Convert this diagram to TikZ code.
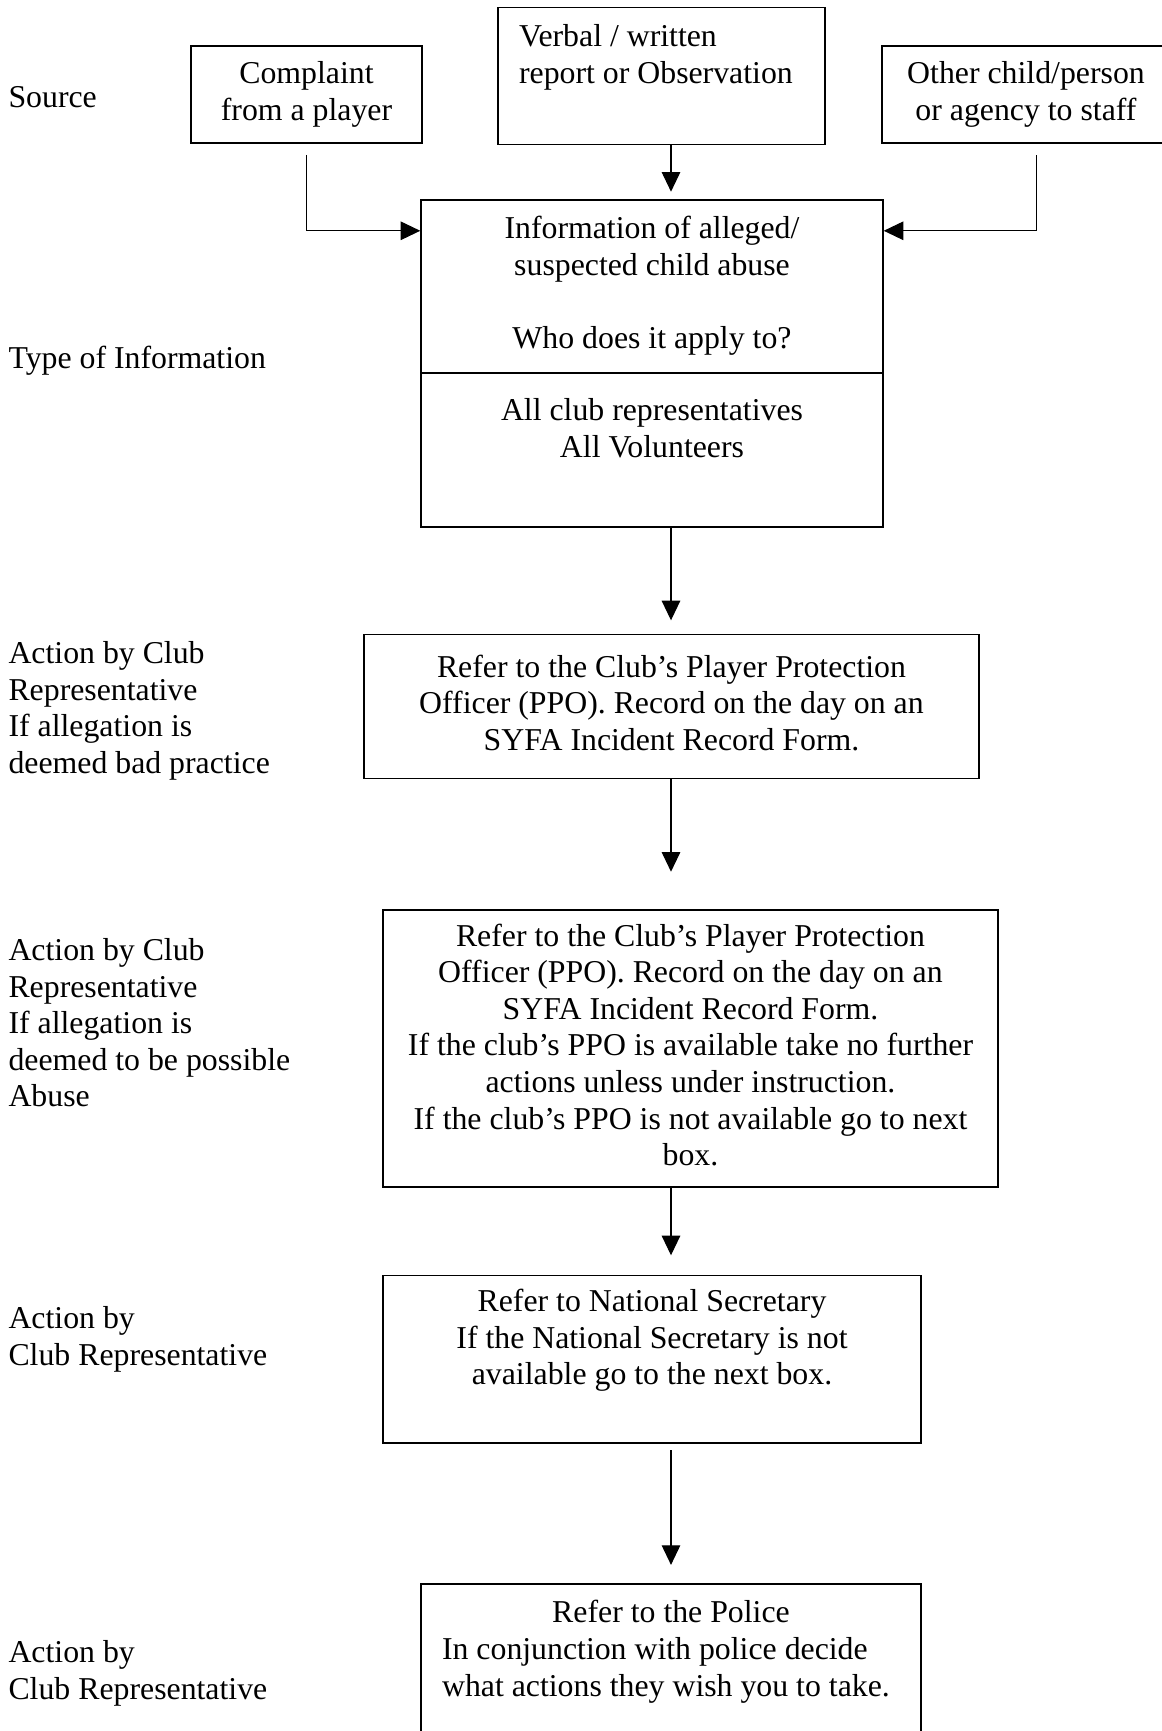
\documentclass[tikz,border=0pt]{standalone}
\usepackage{fontspec}
\setmainfont{Liberation Serif}
\usetikzlibrary{calc,arrows.meta}

\begin{document}
\begin{tikzpicture}[
    x=0.37736pt, y=-0.37736pt,
    font=\fontsize{12}{13.8}\selectfont,
    box/.style={
        rectangle,
        draw,
        line width=0.6pt,
        align=flush center,
        inner xsep=4pt,
        inner ysep=2pt,
        execute at begin node=\strut,
        execute at end node=\strut
    },
    sidetext/.style={
        anchor=north west,
        align=flush left,
        text width=110pt,
        inner sep=0pt,
        execute at begin node=\strut,
        execute at end node=\strut
    },
    arrow/.style={
        -{Triangle[length=7.4pt, width=7pt]},
        line width=0.4pt
    }
]

\useasboundingbox (0,0) rectangle (1162,1731);
\clip (0,0) rectangle (1162,1731);

% sources
\node[box, text width=79.2pt, minimum height=36.6pt] (complaint) at (306.5,94.5)
{Complaint\\from a player};

\node[box, align=flush left, text width=107.5pt, inner xsep=7.92pt, minimum height=51.7pt] (verbal) at (661.5,75.85)
{Verbal / written\\report or Observation\\~};

\node[box, text width=100.7pt, minimum height=36.6pt] (other) at (1026,94.5)
{Other child/person\\or agency to staff};

% information
\node[box, text width=166.3pt, minimum height=65.3pt] (info) at (652,286.5)
{Information of alleged/\\suspected child abuse\\~\\Who does it apply to?};

\node[box, text width=166.3pt, minimum height=58.1pt] (staff) at (652,450)
{All club representatives\\All Volunteers\\~};

% actions
\node[box, text width=224.1pt, minimum height=54.2pt] (badpractice) at (671.5,706.5)
{Refer to the Club’s Player Protection\\Officer (PPO). Record on the day on an\\SYFA Incident Record Form.};

\node[box, text width=224.1pt, minimum height=104.6pt] (abuse) at (690.5,1048.6)
{Refer to the Club’s Player Protection\\Officer (PPO). Record on the day on an\\SYFA Incident Record Form.\\If the club’s PPO is available take no further\\actions unless under instruction.\\If the club’s PPO is not available go to next\\box.};

\node[box, text width=195pt, minimum height=63.2pt] (natsec) at (652,1359.3)
{Refer to National Secretary\\If the National Secretary is not\\available go to the next box.\\~};

\node[box, align=flush left, text width=172.8pt, inner xsep=7.92pt, minimum height=65.3pt] (police) at (671,1670.5)
{\makebox[\hsize]{Refer to the Police}\\In conjunction with police decide\\what actions they wish you to take.\\~};

% left column
\node[sidetext] (source) at (8,81.7) {Source};
\node[sidetext] (typeinfo) at (8,342.4) {Type of Information};
\node[sidetext] (actionbad) at (8,637.4)
{Action by Club\\Representative\\If allegation is\\deemed bad practice};
\node[sidetext] (actionabuse) at (8,934.4)
{Action by Club\\Representative\\If allegation is\\deemed to be possible\\Abuse};
\node[sidetext] (actionnat) at (8,1302.4) {Action by\\Club Representative};
\node[sidetext] (actionpolice) at (8,1636.4) {Action by\\Club Representative};

\coordinate (spine) at (671,0);

\draw[arrow] ($(complaint.south)+(0,11)$) |- ($(info.north west)+(0,31.6)$);
\draw[arrow] ($(other.south)+(10.6,11.7)$) |- ($(info.north east)+(0,31.6)$);
\draw[arrow] (verbal.south -| spine) -- ($(info.north -| spine)+(0,-7.5)$);
\draw[arrow] (staff.south -| spine) -- ($(badpractice.north -| spine)+(0,-13.6)$);
\draw[arrow] (badpractice.south -| spine) -- ($(abuse.north -| spine)+(0,-37.5)$);
\draw[arrow] (abuse.south -| spine) -- ($(natsec.north -| spine)+(0,-19.5)$);
\draw[arrow] ($(natsec.south -| spine)+(0,6.6)$) -- ($(police.north -| spine)+(0,-18.3)$);

\end{tikzpicture}
\end{document}
